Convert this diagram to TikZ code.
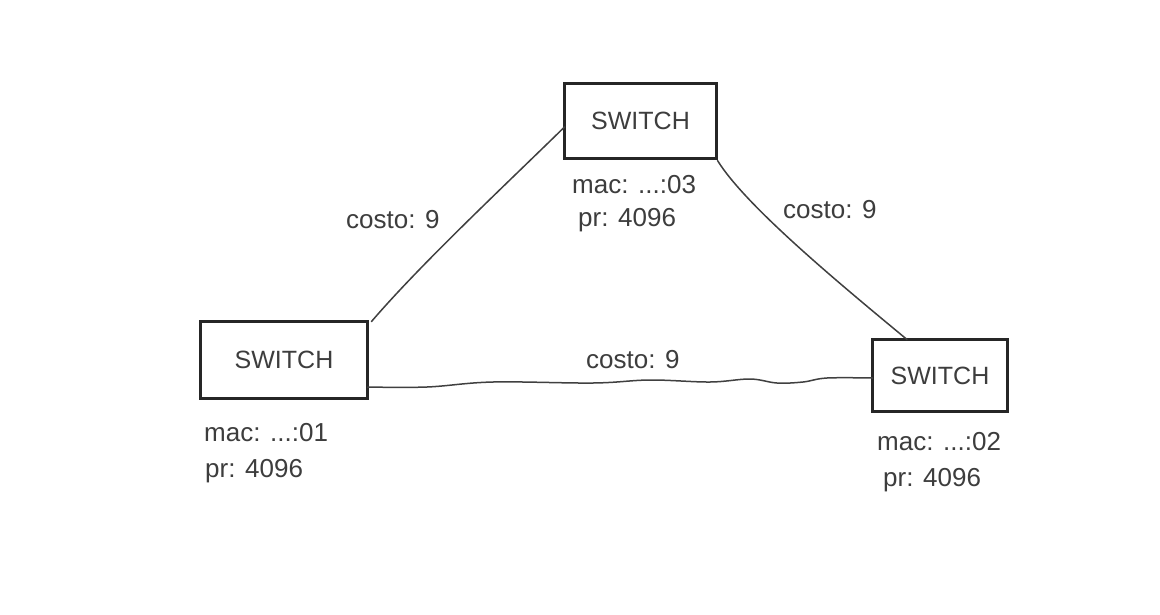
\documentclass[tikz,border=0pt]{standalone}
\usepackage{fontspec}
\setmainfont{Liberation Sans}
\definecolor{ink}{HTML}{262626}
\definecolor{txt}{HTML}{3D3D3D}
\definecolor{wirec}{HTML}{404040}

\begin{document}
\begin{tikzpicture}[x=1pt,y=-1pt,
	switchbox/.style={draw=ink,line width=3pt,inner sep=0,outer sep=0,text=txt,font=\fontsize{25}{30}\selectfont},
	info/.style={anchor=base west,inner sep=0,text=txt,font=\fontsize{26}{32}\selectfont},
	wire/.style={draw=wirec,line width=1.5pt,line cap=round,line join=round}]
	\useasboundingbox[fill=white] (0,0) rectangle (1160,614);
	\node[switchbox,minimum width=167,minimum height=77] (sw1) at (284,360) {SWITCH};
	\node[switchbox,minimum width=135,minimum height=72] (sw2) at (940,375.5) {SWITCH};
	\node[switchbox,minimum width=152,minimum height=75] (sw3) at (640.5,121) {SWITCH};
	\node[info] (mac1) at (204,441) {mac: ...:01};
	\node[info] (pr1) at (205,477) {pr: 4096};
	\node[info] (mac2) at (877,450) {mac: ...:02};
	\node[info] (pr2) at (883,486) {pr: 4096};
	\node[info] (mac3) at (572,193) {mac: ...:03};
	\node[info] (pr3) at (578,226) {pr: 4096};
	\node[info] (c13) at (346,228) {costo: 9};
	\node[info] (c32) at (783,218) {costo: 9};
	\node[info] (c12) at (586,368) {costo: 9};
	\draw[wire] ([xshift=4pt]sw1.north east) .. controls (420,265) and (500,190) .. ([yshift=-6pt]sw3.west);
	\draw[wire] ([xshift=1pt,yshift=-2pt]sw3.south east) .. controls (745,205) and (835,280) .. ([xshift=-33pt]sw2.north);
	\draw[wire] plot[smooth,tension=0.6] coordinates {([yshift=-27pt]sw1.east) (427,387) (493,382) (593,383) (650,380) (710,382) (750,379) (777,383) (803,382) (827,378) ([yshift=-2.5pt]sw2.west)};
\end{tikzpicture}
\end{document}
